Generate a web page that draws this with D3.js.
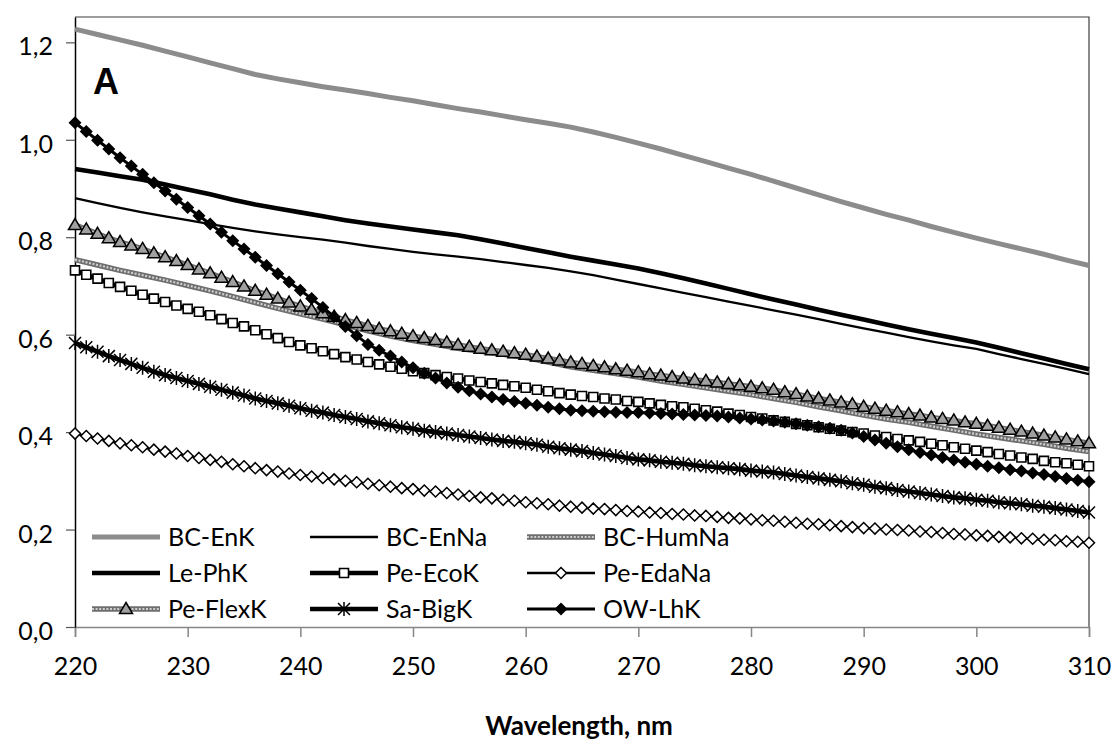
<!DOCTYPE html>
<html>
<head>
<meta charset="utf-8">
<script src="https://cdn.jsdelivr.net/npm/d3@7/dist/d3.min.js"></script>
<style>
  body { margin: 0; background: #fff; }
  svg { display: block; }
  text { font-family: Lato, "Open Sans", sans-serif; fill: #000; }
</style>
</head>
<body>
<div id="chart"></div>
<script>
// wavelength grids, nm
const wl1 = [
  220, 221, 222, 223, 224, 225, 226, 227, 228, 229,
  230, 231, 232, 233, 234, 235, 236, 237, 238, 239,
  240, 241, 242, 243, 244, 245, 246, 247, 248, 249,
  250, 251, 252, 253, 254, 255, 256, 257, 258, 259,
  260, 261, 262, 263, 264, 265, 266, 267, 268, 269,
  270, 271, 272, 273, 274, 275, 276, 277, 278, 279,
  280, 281, 282, 283, 284, 285, 286, 287, 288, 289,
  290, 291, 292, 293, 294, 295, 296, 297, 298, 299,
  300, 301, 302, 303, 304, 305, 306, 307, 308, 309,
  310
];
const wl2 = [
  220, 222, 224, 226, 228, 230, 232, 234, 236, 238,
  240, 242, 244, 246, 248, 250, 252, 254, 256, 258,
  260, 262, 264, 266, 268, 270, 272, 274, 276, 278,
  280, 282, 284, 286, 288, 290, 292, 294, 296, 298,
  300, 302, 304, 306, 308, 310
];

// absorbance values
const bcEnK = [
  1.227, 1.216, 1.205, 1.194, 1.182, 1.170, 1.158, 1.146, 1.134, 1.125,
  1.117, 1.109, 1.102, 1.095, 1.087, 1.080, 1.072, 1.064, 1.057, 1.049,
  1.041, 1.034, 1.026, 1.016, 1.005, 0.993, 0.981, 0.968, 0.955, 0.942,
  0.929, 0.915, 0.901, 0.887, 0.873, 0.860, 0.847, 0.835, 0.822, 0.810,
  0.798, 0.787, 0.776, 0.765, 0.753, 0.742
];
const bcEnNa = [
  0.880, 0.870, 0.860, 0.851, 0.843, 0.835, 0.827, 0.819, 0.812, 0.806,
  0.800, 0.795, 0.789, 0.782, 0.776, 0.770, 0.765, 0.760, 0.755, 0.749,
  0.743, 0.737, 0.730, 0.722, 0.713, 0.704, 0.695, 0.686, 0.677, 0.668,
  0.659, 0.650, 0.641, 0.632, 0.622, 0.613, 0.604, 0.595, 0.586, 0.578,
  0.571, 0.560, 0.550, 0.540, 0.530, 0.519
];
const bcHumNa = [
  0.754, 0.743, 0.732, 0.722, 0.712, 0.701, 0.690, 0.678, 0.666, 0.654,
  0.643, 0.632, 0.620, 0.608, 0.597, 0.588, 0.580, 0.572, 0.566, 0.560,
  0.553, 0.544, 0.534, 0.527, 0.520, 0.513, 0.505, 0.498, 0.491, 0.484,
  0.477, 0.469, 0.461, 0.452, 0.444, 0.435, 0.427, 0.420, 0.412, 0.404,
  0.396, 0.389, 0.382, 0.375, 0.367, 0.360
];
const lePhK = [
  0.940, 0.933, 0.925, 0.918, 0.908, 0.898, 0.888, 0.877, 0.867, 0.859,
  0.851, 0.843, 0.835, 0.828, 0.822, 0.816, 0.810, 0.804, 0.796, 0.787,
  0.778, 0.769, 0.760, 0.752, 0.744, 0.736, 0.726, 0.716, 0.705, 0.694,
  0.683, 0.672, 0.662, 0.651, 0.641, 0.631, 0.621, 0.611, 0.602, 0.593,
  0.584, 0.573, 0.562, 0.551, 0.540, 0.529
];
const peEcoK = [
  0.732, 0.723, 0.715, 0.706, 0.698, 0.690, 0.682, 0.674, 0.667, 0.660,
  0.653, 0.647, 0.640, 0.632, 0.624, 0.617, 0.609, 0.601, 0.593, 0.585,
  0.578, 0.572, 0.566, 0.560, 0.554, 0.549, 0.544, 0.539, 0.534, 0.530,
  0.525, 0.521, 0.517, 0.513, 0.510, 0.506, 0.503, 0.500, 0.497, 0.494,
  0.491, 0.487, 0.484, 0.480, 0.477, 0.474, 0.472, 0.469, 0.467, 0.464,
  0.462, 0.459, 0.456, 0.453, 0.451, 0.448, 0.445, 0.442, 0.438, 0.435,
  0.431, 0.428, 0.424, 0.421, 0.417, 0.414, 0.410, 0.407, 0.403, 0.400,
  0.397, 0.393, 0.390, 0.386, 0.383, 0.380, 0.376, 0.373, 0.369, 0.366,
  0.362, 0.359, 0.355, 0.352, 0.348, 0.345, 0.341, 0.338, 0.336, 0.333,
  0.330
];
const peEdaNa = [
  0.397, 0.392, 0.387, 0.382, 0.377, 0.373, 0.369, 0.364, 0.360, 0.356,
  0.351, 0.347, 0.343, 0.339, 0.334, 0.330, 0.326, 0.322, 0.319, 0.315,
  0.312, 0.309, 0.306, 0.303, 0.300, 0.297, 0.294, 0.291, 0.288, 0.285,
  0.283, 0.280, 0.278, 0.275, 0.272, 0.269, 0.266, 0.264, 0.261, 0.259,
  0.256, 0.254, 0.252, 0.249, 0.247, 0.245, 0.243, 0.242, 0.240, 0.238,
  0.237, 0.235, 0.234, 0.232, 0.231, 0.229, 0.228, 0.226, 0.224, 0.223,
  0.221, 0.219, 0.218, 0.216, 0.214, 0.212, 0.211, 0.209, 0.207, 0.205,
  0.203, 0.202, 0.200, 0.199, 0.198, 0.196, 0.195, 0.193, 0.191, 0.190,
  0.188, 0.187, 0.185, 0.184, 0.182, 0.181, 0.179, 0.178, 0.176, 0.175,
  0.173
];
const peFlexK = [
  0.825, 0.816, 0.807, 0.798, 0.790, 0.783, 0.776, 0.767, 0.759, 0.751,
  0.743, 0.734, 0.726, 0.717, 0.708, 0.699, 0.690, 0.682, 0.674, 0.666,
  0.658, 0.651, 0.644, 0.637, 0.630, 0.624, 0.618, 0.612, 0.607, 0.602,
  0.597, 0.593, 0.589, 0.584, 0.579, 0.575, 0.571, 0.568, 0.565, 0.562,
  0.559, 0.555, 0.551, 0.547, 0.543, 0.540, 0.536, 0.533, 0.529, 0.526,
  0.523, 0.519, 0.516, 0.513, 0.510, 0.507, 0.505, 0.502, 0.499, 0.496,
  0.493, 0.490, 0.487, 0.482, 0.478, 0.473, 0.469, 0.465, 0.461, 0.457,
  0.452, 0.448, 0.444, 0.441, 0.437, 0.434, 0.430, 0.427, 0.424, 0.420,
  0.417, 0.413, 0.409, 0.405, 0.401, 0.397, 0.393, 0.389, 0.385, 0.381,
  0.377
];
const saBigK = [
  0.583, 0.574, 0.565, 0.556, 0.548, 0.540, 0.532, 0.524, 0.517, 0.511,
  0.505, 0.499, 0.493, 0.487, 0.481, 0.475, 0.469, 0.464, 0.459, 0.454,
  0.449, 0.444, 0.440, 0.435, 0.431, 0.427, 0.422, 0.418, 0.414, 0.410,
  0.407, 0.403, 0.400, 0.397, 0.394, 0.391, 0.388, 0.385, 0.382, 0.380,
  0.377, 0.374, 0.370, 0.367, 0.364, 0.361, 0.357, 0.354, 0.351, 0.347,
  0.344, 0.342, 0.339, 0.337, 0.335, 0.332, 0.330, 0.328, 0.326, 0.324,
  0.321, 0.319, 0.317, 0.314, 0.311, 0.308, 0.305, 0.302, 0.299, 0.295,
  0.292, 0.288, 0.285, 0.281, 0.278, 0.275, 0.272, 0.269, 0.266, 0.264,
  0.261, 0.259, 0.256, 0.254, 0.252, 0.249, 0.247, 0.244, 0.241, 0.238,
  0.235
];
const owLhK = [
  1.035, 1.017, 0.999, 0.981, 0.963, 0.946, 0.929, 0.912, 0.895, 0.878,
  0.861, 0.844, 0.827, 0.810, 0.793, 0.776, 0.759, 0.742, 0.725, 0.708,
  0.691, 0.674, 0.656, 0.637, 0.617, 0.598, 0.580, 0.568, 0.556, 0.544,
  0.532, 0.521, 0.511, 0.501, 0.492, 0.485, 0.478, 0.472, 0.467, 0.463,
  0.459, 0.455, 0.451, 0.448, 0.445, 0.444, 0.443, 0.442, 0.441, 0.440,
  0.440, 0.439, 0.438, 0.437, 0.436, 0.435, 0.434, 0.433, 0.431, 0.429,
  0.427, 0.425, 0.423, 0.420, 0.417, 0.414, 0.411, 0.408, 0.404, 0.398,
  0.391, 0.384, 0.377, 0.370, 0.364, 0.358, 0.353, 0.348, 0.343, 0.338,
  0.334, 0.330, 0.327, 0.323, 0.320, 0.316, 0.313, 0.309, 0.305, 0.301,
  0.298
];

const xTicks = [220, 230, 240, 250, 260, 270, 280, 290, 300, 310];
const yTicks = [0, 0.2, 0.4, 0.6, 0.8, 1.0, 1.2];
const xTitle = "Wavelength, nm";
const panelLabel = "A";

// series table, in the order they are drawn and listed in the legend
const series = [
  { name: "BC-EnK",   x: wl2, y: bcEnK,   style: "grayThick" },
  { name: "BC-EnNa",  x: wl2, y: bcEnNa,  style: "thin" },
  { name: "BC-HumNa", x: wl2, y: bcHumNa, style: "pattern" },
  { name: "Le-PhK",   x: wl2, y: lePhK,   style: "thick" },
  { name: "Pe-EcoK",  x: wl1, y: peEcoK,  style: "thick", marker: "square" },
  { name: "Pe-EdaNa", x: wl1, y: peEdaNa, style: "thin",  marker: "diamondOpen" },
  { name: "Pe-FlexK", x: wl1, y: peFlexK, style: "pattern", marker: "triangle" },
  { name: "Sa-BigK",  x: wl1, y: saBigK,  style: "thick", marker: "star" },
  { name: "OW-LhK",   x: wl1, y: owLhK,   style: "medium", marker: "diamondFilled" }
];

const W = 1113, H = 740;
const plot = { left: 75, right: 1089, top: 17, bottom: 627 };
const yMax = 1.252;

const svg = d3.select("#chart").append("svg")
  .attr("width", W)
  .attr("height", H);

const xScale = d3.scaleLinear().domain([220, 310]).range([plot.left, plot.right]);
const yScale = d3.scaleLinear().domain([0, yMax]).range([plot.bottom, plot.top]);

// plot frame (top and right edges)
svg.append("path")
  .attr("d", `M${plot.left},${plot.top}H${plot.right}V${plot.bottom}`)
  .attr("fill", "none")
  .attr("stroke", "#3c3c3c")
  .attr("stroke-width", 1.2);

// x axis
const xAxis = svg.append("g")
  .attr("transform", `translate(0,${plot.bottom})`)
  .call(d3.axisBottom(xScale).tickValues(xTicks).tickSize(10).tickPadding(20).tickFormat(d3.format("d")));
xAxis.select(".domain").attr("stroke", "#868686").attr("stroke-width", 1.5);
xAxis.selectAll(".tick line").attr("stroke", "#868686").attr("stroke-width", 1.5);
xAxis.selectAll(".tick text")
  .attr("font-family", "Lato, sans-serif")
  .attr("font-size", 25)
  .attr("fill", "#000");

// y axis
const commaFmt = d => d3.format(".1f")(d).replace(".", ",");
const yAxis = svg.append("g")
  .attr("transform", `translate(${plot.left},0)`)
  .call(d3.axisLeft(yScale).tickValues(yTicks).tickSize(9).tickSizeOuter(0).tickPadding(13).tickFormat(commaFmt));
yAxis.select(".domain").attr("stroke", "#000").attr("stroke-width", 1.5);
yAxis.selectAll(".tick line").attr("stroke", "#555").attr("stroke-width", 1.2);
yAxis.selectAll(".tick text")
  .attr("font-family", "Lato, sans-serif")
  .attr("font-size", 25)
  .attr("dy", "0.5em")
  .attr("fill", "#000");

// axis title and panel letter
svg.append("text")
  .attr("x", xScale(265) - 3)
  .attr("y", 735)
  .attr("text-anchor", "middle")
  .attr("font-size", 26)
  .attr("font-weight", "bold")
  .text(xTitle);

svg.append("text")
  .attr("x", 93)
  .attr("y", 94)
  .style("font-family", "'Liberation Sans', Arial, sans-serif")
  .attr("font-size", 36)
  .attr("font-weight", "bold")
  .text(panelLabel);

// line styles
function strokeLine(g, d, style) {
  if (style === "pattern") {
    g.append("path").attr("d", d).attr("fill", "none")
      .attr("stroke", "#6e6e6e").attr("stroke-width", 5.5);
    g.append("path").attr("d", d).attr("fill", "none")
      .attr("stroke", "#d0d0d0").attr("stroke-width", 2.2)
      .attr("stroke-dasharray", "2,1.6");
    return;
  }
  const widths = { grayThick: 5, thick: 4.6, medium: 3, thin: 2.3 };
  g.append("path").attr("d", d).attr("fill", "none")
    .attr("stroke", style === "grayThick" ? "#8c8c8c" : "#000")
    .attr("stroke-width", widths[style])
    .attr("stroke-linejoin", "round");
}

// marker drawing
function drawMarker(g, type, cx, cy) {
  const m = g.append("path").attr("transform", `translate(${cx},${cy})`);
  if (type === "square") {
    m.attr("d", "M-4.5,-4.5H4.5V4.5H-4.5Z").attr("fill", "#fff").attr("stroke", "#000").attr("stroke-width", 1.6);
  } else if (type === "diamondOpen") {
    m.attr("d", "M0,-5.5L5.5,0L0,5.5L-5.5,0Z").attr("fill", "#fff").attr("stroke", "#000").attr("stroke-width", 1.5);
  } else if (type === "diamondFilled") {
    m.attr("d", "M0,-6.5L6.5,0L0,6.5L-6.5,0Z").attr("fill", "#000");
  } else if (type === "triangle") {
    m.attr("d", "M0,-6.5L6.5,4.5L-6.5,4.5Z").attr("fill", "#a0a0a0").attr("stroke", "#000").attr("stroke-width", 1.5);
  } else if (type === "star") {
    m.attr("d", "M-6,-6L6,6M-6,6L6,-6M0,-7V7").attr("fill", "none").attr("stroke", "#000").attr("stroke-width", 1.5);
  }
}

const line = d3.line()
  .x(d => xScale(d[0]))
  .y(d => yScale(d[1]));

series.forEach(s => {
  const pts = s.x.map((w, i) => [w, s.y[i]]);
  const g = svg.append("g").attr("class", "series");
  strokeLine(g, line(pts), s.style);
  if (s.marker) {
    pts.forEach(p => drawMarker(g, s.marker, xScale(p[0]), yScale(p[1])));
  }
});

// legend: three columns by three rows
const legendCols = [92, 310, 527];
const legendRows = [537, 573, 609];
const legendLen = 68;
series.forEach((s, i) => {
  const x0 = legendCols[i % 3];
  const y0 = legendRows[Math.floor(i / 3)];
  const g = svg.append("g").attr("class", "legend-item");
  strokeLine(g, `M${x0},${y0}H${x0 + legendLen}`, s.style);
  if (s.marker) drawMarker(g, s.marker, x0 + legendLen / 2, y0);
  g.append("text")
    .attr("x", x0 + legendLen + 8)
    .attr("y", y0)
    .attr("dy", "0.36em")
    .attr("font-size", 25)
    .text(s.name);
});
</script>
</body>
</html>
